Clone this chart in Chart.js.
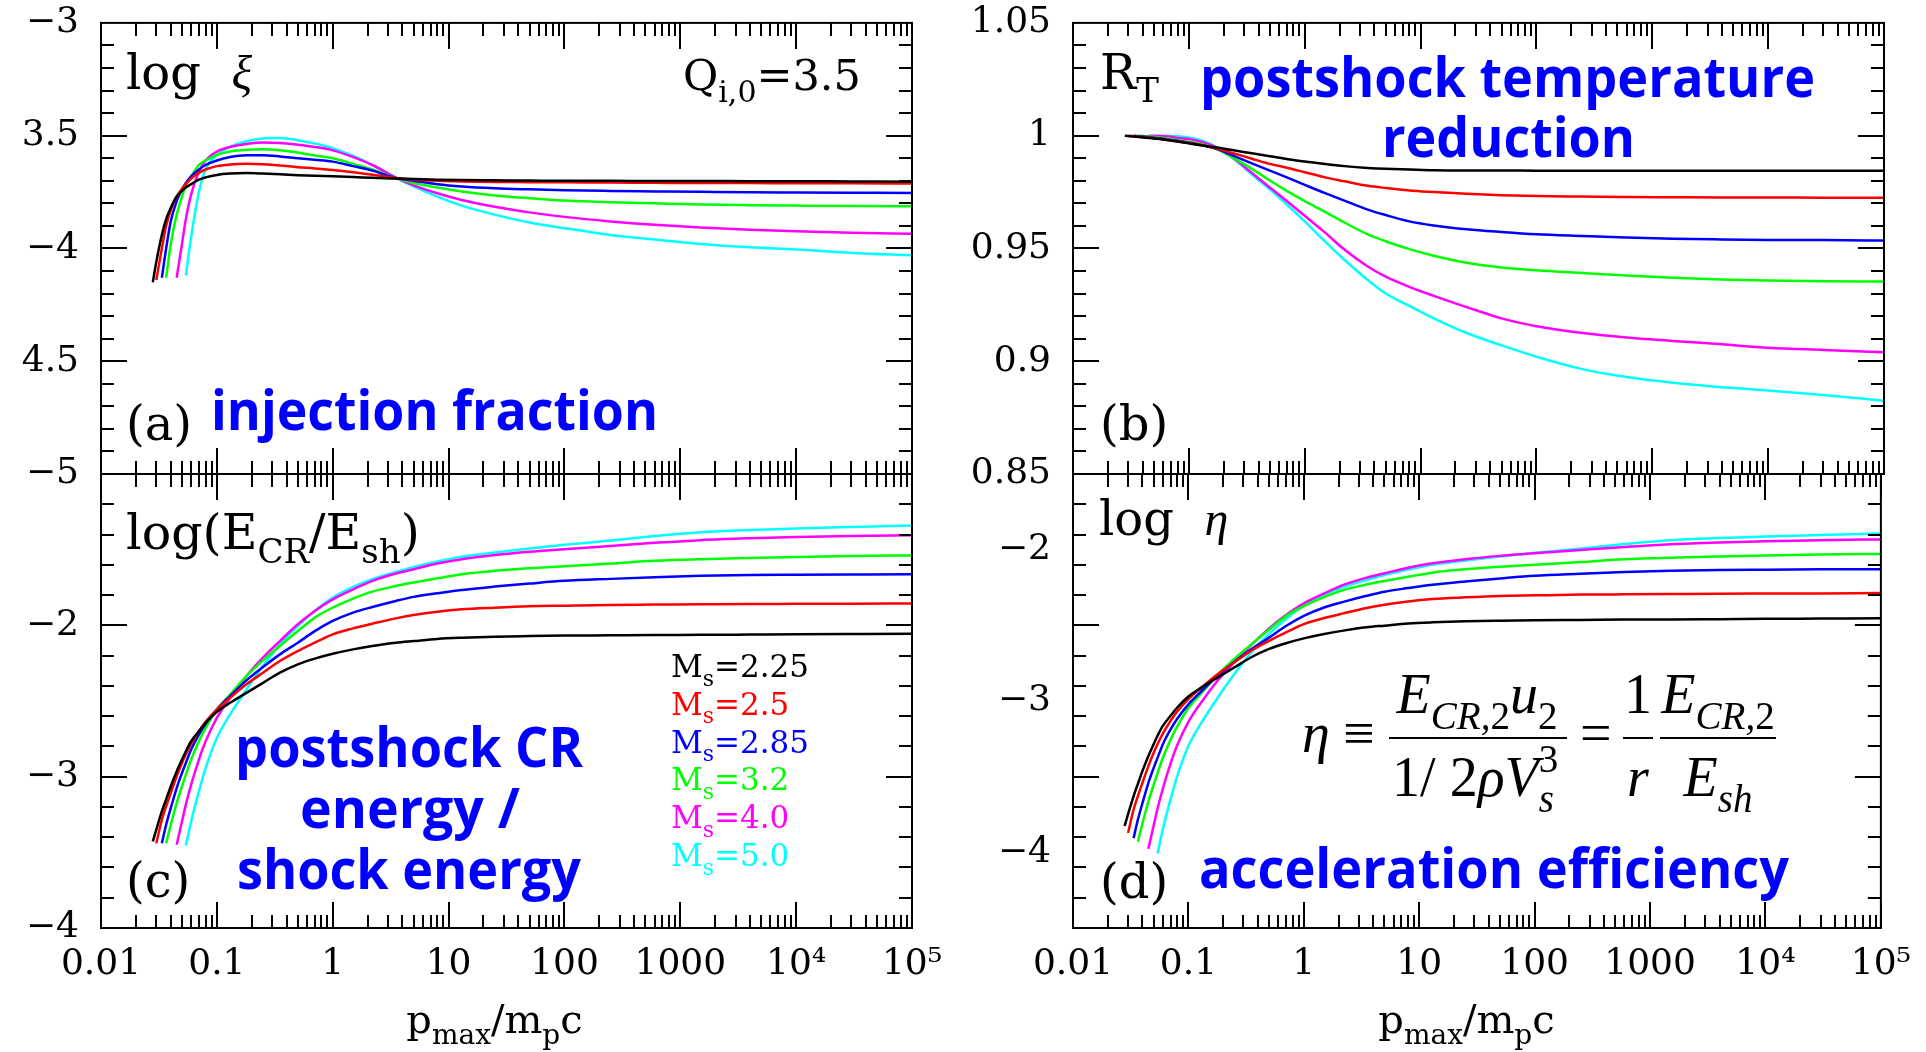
<!DOCTYPE html>
<html>
<head>
<meta charset="utf-8">
<title>CR shock acceleration panels</title>
<script src="https://cdn.jsdelivr.net/npm/chart.js@4.4.1/dist/chart.umd.min.js"></script>
<style>
  html, body { margin: 0; padding: 0; background: #fff; }
  #wrap { position: relative; width: 1926px; height: 1052px; }
  #wrap canvas { position: absolute; left: 0; top: 0; }
</style>
</head>
<body>
<div id="wrap">
  <canvas id="panelA" width="1926" height="1052"></canvas>
  <canvas id="panelB" width="1926" height="1052"></canvas>
  <canvas id="panelC" width="1926" height="1052"></canvas>
  <canvas id="panelD" width="1926" height="1052"></canvas>
</div>
<script>
// p_max / m_p c grid shared by every curve
const pmax = [0.028, 0.03, 0.0335, 0.0365, 0.04, 0.045, 0.05, 0.054, 0.06, 0.07, 0.08, 0.1, 0.13, 0.18, 0.25, 0.35, 0.5, 0.7, 1, 1.5, 2.2, 3.5, 5, 8, 13, 25, 50, 100, 250, 600, 1500, 4000, 1e4, 3e4, 1e5];

const machLabels = ['2.25', '2.5', '2.85', '3.2', '4.0', '5.0'];
const machColors = ['#000000', '#ff0000', '#0000ff', '#00ff00', '#ff00ff', '#00ffff'];

// (a) log xi, injection fraction
const xi225 = [-4.15, -4.06, -3.94, -3.87, -3.82, -3.77, -3.745, -3.73, -3.715, -3.695, -3.685, -3.674, -3.668, -3.666, -3.668, -3.671, -3.675, -3.678, -3.68, -3.683, -3.687, -3.69, -3.692, -3.695, -3.697, -3.698, -3.699, -3.7, -3.7, -3.701, -3.701, -3.702, -3.702, -3.703, -3.704];
const xi250 = [null, -4.14, -4.0, -3.9, -3.83, -3.77, -3.735, -3.715, -3.69, -3.665, -3.65, -3.635, -3.628, -3.625, -3.627, -3.632, -3.64, -3.645, -3.652, -3.662, -3.673, -3.688, -3.695, -3.7, -3.703, -3.705, -3.706, -3.707, -3.708, -3.709, -3.71, -3.71, -3.711, -3.711, -3.712];
const xi285 = [null, null, -4.13, -4.0, -3.88, -3.79, -3.74, -3.71, -3.68, -3.65, -3.63, -3.61, -3.595, -3.587, -3.587, -3.592, -3.6, -3.607, -3.615, -3.635, -3.655, -3.688, -3.7, -3.715, -3.725, -3.733, -3.738, -3.742, -3.745, -3.747, -3.749, -3.751, -3.752, -3.753, -3.754];
const xi320 = [null, null, null, -4.13, -3.98, -3.85, -3.77, -3.72, -3.68, -3.63, -3.61, -3.585, -3.57, -3.562, -3.56, -3.565, -3.575, -3.588, -3.6, -3.625, -3.65, -3.688, -3.71, -3.73, -3.748, -3.765, -3.777, -3.787, -3.795, -3.8, -3.805, -3.808, -3.81, -3.812, -3.813];
const xi400 = [null, null, null, null, null, -4.13, -3.98, -3.87, -3.76, -3.66, -3.61, -3.57, -3.55, -3.537, -3.53, -3.532, -3.54, -3.55, -3.565, -3.595, -3.63, -3.686, -3.72, -3.755, -3.785, -3.815, -3.84, -3.86, -3.88, -3.895, -3.907, -3.917, -3.924, -3.93, -3.935];
const xi500 = [null, null, null, null, null, null, null, -4.12, -3.95, -3.75, -3.65, -3.585, -3.55, -3.525, -3.512, -3.51, -3.52, -3.535, -3.555, -3.59, -3.63, -3.686, -3.725, -3.77, -3.81, -3.85, -3.885, -3.91, -3.94, -3.96, -3.98, -3.995, -4.005, -4.02, -4.03];

// (b) R_T, postshock temperature reduction
const rt225 = [1.0, 0.9998, 0.9996, 0.9994, 0.9992, 0.999, 0.9988, 0.9986, 0.9983, 0.9978, 0.9974, 0.9966, 0.9956, 0.9946, 0.9934, 0.9922, 0.9909, 0.9897, 0.9885, 0.9874, 0.9865, 0.9857, 0.9853, 0.985, 0.9847, 0.9846, 0.9846, 0.9845, 0.9845, 0.9845, 0.9844, 0.9844, 0.9844, 0.9844, 0.9844];
const rt250 = [null, 1.0, 0.9998, 0.9996, 0.9994, 0.9992, 0.9989, 0.9987, 0.9984, 0.9979, 0.9975, 0.9968, 0.9958, 0.9941, 0.992, 0.9898, 0.9875, 0.9858, 0.9838, 0.9815, 0.9798, 0.9778, 0.9768, 0.9757, 0.975, 0.9742, 0.9736, 0.9732, 0.973, 0.9728, 0.9727, 0.9726, 0.9726, 0.9725, 0.9725];
const rt285 = [null, null, 1.0, 0.9998, 0.9996, 0.9994, 0.9991, 0.9989, 0.9986, 0.9981, 0.9977, 0.9969, 0.9958, 0.9938, 0.9908, 0.9877, 0.9845, 0.9815, 0.9782, 0.9745, 0.9712, 0.9672, 0.9648, 0.962, 0.9602, 0.9585, 0.9573, 0.9563, 0.9555, 0.9548, 0.9543, 0.954, 0.9538, 0.9537, 0.9535];
const rt320 = [null, null, null, 1.0, 0.9999, 0.9997, 0.9995, 0.9993, 0.999, 0.9985, 0.998, 0.9973, 0.9962, 0.9937, 0.9897, 0.9853, 0.9801, 0.9755, 0.971, 0.9662, 0.9615, 0.9562, 0.9532, 0.9497, 0.9468, 0.9437, 0.9416, 0.9403, 0.9391, 0.938, 0.937, 0.9362, 0.9358, 0.9355, 0.9353];
const rt400 = [null, null, null, null, null, 1.0, 1.0, 0.9999, 0.9998, 0.9995, 0.999, 0.9985, 0.9972, 0.9943, 0.9895, 0.9835, 0.977, 0.971, 0.9645, 0.957, 0.9495, 0.942, 0.9375, 0.933, 0.929, 0.924, 0.919, 0.9155, 0.9125, 0.9105, 0.909, 0.9075, 0.906, 0.905, 0.904];
const rt500 = [null, null, null, null, null, null, null, 1.0, 1.0, 0.9999, 0.9997, 0.9992, 0.9978, 0.9945, 0.9893, 0.9828, 0.9762, 0.9695, 0.962, 0.953, 0.945, 0.936, 0.93, 0.9245, 0.919, 0.9125, 0.907, 0.902, 0.8965, 0.893, 0.8905, 0.8885, 0.887, 0.885, 0.8825];

// (c) log(E_CR/E_sh)
const ecr225 = [-3.428, -3.35, -3.23, -3.15, -3.064, -2.965, -2.887, -2.832, -2.766, -2.7, -2.645, -2.572, -2.512, -2.446, -2.38, -2.313, -2.258, -2.22, -2.188, -2.159, -2.137, -2.115, -2.104, -2.09, -2.082, -2.075, -2.071, -2.068, -2.066, -2.064, -2.063, -2.061, -2.059, -2.057, -2.055];
const ecr250 = [null, -3.44, -3.285, -3.196, -3.108, -2.998, -2.91, -2.854, -2.784, -2.7, -2.638, -2.556, -2.479, -2.39, -2.313, -2.236, -2.17, -2.115, -2.06, -2.02, -1.989, -1.954, -1.932, -1.91, -1.894, -1.883, -1.874, -1.87, -1.865, -1.863, -1.861, -1.859, -1.858, -1.857, -1.855];
const ecr285 = [null, null, -3.44, -3.318, -3.208, -3.075, -2.976, -2.91, -2.821, -2.722, -2.651, -2.556, -2.468, -2.364, -2.276, -2.192, -2.115, -2.038, -1.971, -1.916, -1.879, -1.839, -1.812, -1.788, -1.766, -1.744, -1.724, -1.706, -1.693, -1.682, -1.673, -1.668, -1.666, -1.664, -1.662];
const ecr320 = [null, null, null, -3.44, -3.318, -3.174, -3.064, -2.987, -2.887, -2.766, -2.678, -2.556, -2.457, -2.336, -2.232, -2.137, -2.038, -1.949, -1.883, -1.823, -1.777, -1.74, -1.717, -1.689, -1.662, -1.64, -1.623, -1.609, -1.592, -1.574, -1.563, -1.555, -1.548, -1.542, -1.538];
const ecr400 = [null, null, null, null, null, -3.45, -3.296, -3.185, -3.053, -2.887, -2.766, -2.611, -2.479, -2.336, -2.214, -2.104, -1.993, -1.905, -1.828, -1.762, -1.706, -1.658, -1.629, -1.592, -1.563, -1.536, -1.514, -1.497, -1.475, -1.455, -1.437, -1.425, -1.417, -1.41, -1.405];
const ecr500 = [null, null, null, null, null, null, null, -3.455, -3.296, -3.097, -2.943, -2.744, -2.589, -2.424, -2.269, -2.126, -2.004, -1.905, -1.817, -1.746, -1.695, -1.647, -1.614, -1.578, -1.547, -1.519, -1.492, -1.468, -1.44, -1.41, -1.385, -1.37, -1.36, -1.35, -1.34];

// (d) log eta, acceleration efficiency
const eta225 = [-3.826, -3.748, -3.628, -3.548, -3.462, -3.363, -3.285, -3.23, -3.164, -3.098, -3.043, -2.97, -2.91, -2.844, -2.778, -2.711, -2.656, -2.618, -2.586, -2.557, -2.535, -2.513, -2.502, -2.488, -2.48, -2.473, -2.469, -2.466, -2.464, -2.462, -2.461, -2.459, -2.457, -2.455, -2.453];
const eta250 = [null, -3.872, -3.717, -3.628, -3.54, -3.43, -3.342, -3.286, -3.216, -3.132, -3.07, -2.988, -2.911, -2.822, -2.745, -2.668, -2.602, -2.547, -2.492, -2.452, -2.421, -2.386, -2.364, -2.342, -2.326, -2.315, -2.306, -2.302, -2.297, -2.295, -2.293, -2.291, -2.29, -2.289, -2.287];
const eta285 = [null, null, -3.906, -3.784, -3.674, -3.541, -3.442, -3.376, -3.287, -3.188, -3.117, -3.022, -2.934, -2.83, -2.742, -2.658, -2.581, -2.504, -2.437, -2.382, -2.345, -2.305, -2.278, -2.254, -2.232, -2.21, -2.19, -2.172, -2.159, -2.148, -2.139, -2.134, -2.132, -2.13, -2.129];
const eta320 = [null, null, null, -3.93, -3.808, -3.664, -3.554, -3.477, -3.377, -3.256, -3.168, -3.046, -2.947, -2.826, -2.722, -2.627, -2.528, -2.439, -2.373, -2.313, -2.267, -2.23, -2.207, -2.179, -2.152, -2.13, -2.113, -2.099, -2.082, -2.064, -2.053, -2.045, -2.038, -2.032, -2.028];
const eta400 = [null, null, null, null, null, -3.977, -3.823, -3.712, -3.58, -3.414, -3.293, -3.138, -3.006, -2.863, -2.741, -2.631, -2.52, -2.432, -2.355, -2.289, -2.233, -2.185, -2.156, -2.119, -2.09, -2.063, -2.041, -2.024, -2.002, -1.982, -1.964, -1.952, -1.944, -1.937, -1.932];
const eta500 = [null, null, null, null, null, null, null, -4.008, -3.849, -3.65, -3.496, -3.297, -3.142, -2.977, -2.822, -2.679, -2.557, -2.458, -2.37, -2.299, -2.248, -2.2, -2.167, -2.131, -2.1, -2.072, -2.045, -2.021, -1.993, -1.963, -1.938, -1.923, -1.913, -1.903, -1.893];

// axis ticks
const xTickValues = [0.01, 0.1, 1, 10, 100, 1000, 1e4, 1e5];
const xTickLabels = ['0.01', '0.1', '1', '10', '100', '1000', '10\u2074', '10\u2075'];
const yTicksA = [-5, -4.5, -4, -3.5, -3];
const yLabelsA = ['\u22125', '4.5', '\u22124', '3.5', '\u22123'];
const yTicksB = [0.85, 0.9, 0.95, 1, 1.05];
const yLabelsB = ['0.85', '0.9', '0.95', '1', '1.05'];
const yTicksC = [-4, -3, -2];
const yLabelsC = ['\u22124', '\u22123', '\u22122'];
const yTicksD = [-4, -3, -2];
const yLabelsD = ['\u22124', '\u22123', '\u22122'];

const W = 1926, H = 1052;
const AXIS_W = 100, AXIS_H = 80;
const SERIF = '"DejaVu Serif", serif';
const MATH = '"Liberation Serif", "Times New Roman", serif';
const NOTE_BLUE = '#0000ff';

// ---- text helpers ----
// part = [text, kind, italic, family]; kind: 'n' normal, 'b' subscript, 'p' superscript, 'P' superscript without advance
function partFont(kind, size, family, it) {
  const s = kind === 'n' ? size : Math.round(size * 0.7);
  return (it ? 'italic ' : '') + s + 'px ' + family;
}
function runWidth(ctx, parts, size, family) {
  let w = 0;
  parts.forEach(([t, kind = 'n', it, fam]) => {
    if (kind === 'P') return;
    ctx.font = partFont(kind, size, fam || family, it);
    w += ctx.measureText(t).width;
  });
  return w;
}
function drawRun(ctx, parts, x, y, size, family, color, align) {
  ctx.save();
  ctx.fillStyle = color;
  ctx.textAlign = 'left';
  ctx.textBaseline = 'alphabetic';
  if (align === 'center') x -= runWidth(ctx, parts, size, family) / 2;
  parts.forEach(([t, kind = 'n', it, fam]) => {
    ctx.font = partFont(kind, size, fam || family, it);
    let dy = 0;
    if (kind === 'b') dy = size * 0.28;
    if (kind === 'p' || kind === 'P') dy = -size * 0.42;
    ctx.fillText(t, x, y + dy);
    if (kind !== 'P') x += ctx.measureText(t).width;
  });
  ctx.restore();
}
// bold blue notes, squeezed to the width they take on the figure
function drawNote(ctx, text, left, base, width) {
  ctx.save();
  ctx.font = 'bold 56px "Open Sans", sans-serif';
  const sx = width / ctx.measureText(text).width;
  ctx.translate(left, base);
  ctx.scale(sx, 1);
  ctx.fillStyle = NOTE_BLUE;
  ctx.textBaseline = 'alphabetic';
  ctx.fillText(text, 0, 0);
  ctx.restore();
}
function drawBar(ctx, x1, x2, y) {
  ctx.fillStyle = '#000';
  ctx.fillRect(x1, y - 1, x2 - x1, 2);
}

function stepValues(min, max, step) {
  const out = [];
  for (let v = min + step; v < max - step / 2; v += step) out.push(+v.toFixed(4));
  return out;
}

const xMinor = [];
for (let e = -2; e < 5; e++) for (let k = 2; k <= 9; k++) xMinor.push(k * Math.pow(10, e));

function buildPanel(id, box, series, yMin, yMax, yTicks, yLabels, majorStep, minorStep, showX, notes) {
  const yMajor = stepValues(yMin, yMax, majorStep);
  const yMinorVals = stepValues(yMin, yMax, minorStep).filter(v => !yMajor.some(m => Math.abs(m - v) < 1e-6));

  const frame = {
    id: 'frame',
    afterDatasetsDraw(chart) {
      const {ctx, chartArea: a, scales: {x, y}} = chart;
      ctx.save();
      ctx.strokeStyle = '#000';
      ctx.lineWidth = 2;
      ctx.strokeRect(a.left, a.top, a.right - a.left, a.bottom - a.top);
      const seg = (x1, y1, x2, y2) => { ctx.beginPath(); ctx.moveTo(x1, y1); ctx.lineTo(x2, y2); ctx.stroke(); };
      xTickValues.forEach(v => {
        const px = Math.round(x.getPixelForValue(v));
        seg(px, a.top, px, a.top + 26); seg(px, a.bottom, px, a.bottom - 26);
      });
      xMinor.forEach(v => {
        const px = Math.round(x.getPixelForValue(v));
        seg(px, a.top, px, a.top + 13); seg(px, a.bottom, px, a.bottom - 13);
      });
      yMajor.forEach(v => {
        const py = Math.round(y.getPixelForValue(v));
        seg(a.left, py, a.left + 26, py); seg(a.right, py, a.right - 26, py);
      });
      yMinorVals.forEach(v => {
        const py = Math.round(y.getPixelForValue(v));
        seg(a.left, py, a.left + 13, py); seg(a.right, py, a.right - 13, py);
      });
      ctx.restore();
      notes(ctx, box);
    }
  };

  return new Chart(document.getElementById(id), {
    type: 'line',
    data: {
      datasets: series.map((arr, k) => ({
        label: 'Ms=' + machLabels[k],
        data: pmax.map((p, i) => ({x: p, y: arr[i]})).filter(d => d.y !== null),
        borderColor: machColors[k],
        borderWidth: 2.5,
        pointRadius: 0,
        fill: false,
        cubicInterpolationMode: 'monotone'
      }))
    },
    options: {
      responsive: false,
      animation: false,
      devicePixelRatio: 1,
      events: [],
      layout: {
        padding: {left: box.left - AXIS_W, top: box.top, right: W - box.right, bottom: H - box.bottom - AXIS_H}
      },
      scales: {
        x: {
          type: 'logarithmic',
          min: 0.01,
          max: 1e5,
          afterFit: s => { s.height = AXIS_H; },
          afterBuildTicks: s => { s.ticks = xTickValues.map(v => ({value: v})); },
          grid: {display: false, drawTicks: false},
          border: {display: false},
          ticks: {
            display: showX,
            autoSkip: false,
            maxRotation: 0,
            padding: 15,
            color: '#000',
            font: {family: SERIF, size: 36},
            callback: (v, i) => xTickLabels[i]
          }
        },
        y: {
          type: 'linear',
          min: yMin,
          max: yMax,
          afterFit: s => { s.width = AXIS_W; },
          afterBuildTicks: s => { s.ticks = yTicks.map(v => ({value: v})); },
          grid: {display: false, drawTicks: false},
          border: {display: false},
          ticks: {
            padding: 22,
            color: '#000',
            // tiny line height keeps the end labels from pushing the plot area down
            font: {family: SERIF, size: 36, lineHeight: 0.05},
            callback: (v, i) => yLabels[i]
          }
        }
      },
      plugins: {legend: {display: false}, tooltip: {enabled: false}}
    },
    plugins: [frame]
  });
}

function xTitle(ctx, box) {
  const cx = (box.left + box.right) / 2 - 12;
  drawRun(ctx, [['p'], ['max', 'b'], ['/m'], ['p', 'b'], ['c']], cx, 1033, 40, SERIF, '#000', 'center');
}

buildPanel('panelA', {left: 101, top: 21, right: 912, bottom: 474},
  [xi225, xi250, xi285, xi320, xi400, xi500], -5, -3, yTicksA, yLabelsA, 0.5, 0.1, false,
  (ctx) => {
    drawRun(ctx, [['log  '], ['\u03be', 'n', 1, MATH]], 126, 89, 48, SERIF, '#000');
    drawRun(ctx, [['Q'], ['i,0', 'b'], ['=3.5']], 683, 90, 43, SERIF, '#000');
    drawRun(ctx, [['(a)']], 126, 440, 48, SERIF, '#000');
    drawNote(ctx, 'injection fraction', 211, 430, 447);
  });

buildPanel('panelB', {left: 1073, top: 21, right: 1884, bottom: 474},
  [rt225, rt250, rt285, rt320, rt400, rt500], 0.85, 1.05, yTicksB, yLabelsB, 0.05, 0.01, false,
  (ctx) => {
    drawRun(ctx, [['R'], ['T', 'b']], 1100, 89, 48, SERIF, '#000');
    drawRun(ctx, [['(b)']], 1100, 440, 48, SERIF, '#000');
    drawNote(ctx, 'postshock temperature', 1200, 97, 615);
    drawNote(ctx, 'reduction', 1382, 157, 253);
  });

buildPanel('panelC', {left: 101, top: 474, right: 912, bottom: 928},
  [ecr225, ecr250, ecr285, ecr320, ecr400, ecr500], -4, -1, yTicksC, yLabelsC, 1, 0.2, true,
  (ctx, box) => {
    drawRun(ctx, [['log(E'], ['CR', 'b'], ['/E'], ['sh', 'b'], [')']], 126, 549, 49, SERIF, '#000');
    drawRun(ctx, [['(c)']], 126, 897, 48, SERIF, '#000');
    drawNote(ctx, 'postshock CR', 235, 767, 348);
    drawNote(ctx, 'energy /', 300, 828, 220);
    drawNote(ctx, 'shock energy', 237, 889, 344);
    machLabels.forEach((m, k) => {
      drawRun(ctx, [['M'], ['s', 'b'], ['=' + m]], 671, 677 + k * 37.8, 31, SERIF, machColors[k]);
    });
    xTitle(ctx, box);
  });

buildPanel('panelD', {left: 1073, top: 474, right: 1884, bottom: 928},
  [eta225, eta250, eta285, eta320, eta400, eta500], -4.5, -1.5, yTicksD, yLabelsD, 1, 0.2, true,
  (ctx, box) => {
    drawRun(ctx, [['log  '], ['\u03b7', 'n', 1, MATH]], 1099, 535, 48, SERIF, '#000');
    drawRun(ctx, [['(d)']], 1100, 898, 48, SERIF, '#000');
    drawNote(ctx, 'acceleration efficiency', 1199, 888, 590);
    // eta definition
    const fs = 56;
    drawRun(ctx, [['\u03b7', 'n', 1]], 1302, 752, fs, MATH, '#000');
    drawRun(ctx, [['\u2261']], 1343, 752, fs, MATH, '#000');
    drawBar(ctx, 1389, 1567, 738);
    drawRun(ctx, [['E', 'n', 1], ['CR,', 'b', 1], ['2', 'b'], ['u', 'n', 1], ['2', 'b']], 1477, 713, fs, MATH, '#000', 'center');
    drawRun(ctx, [['1/ 2'], ['\u03c1', 'n', 1], ['V', 'n', 1], ['3', 'P'], ['s', 'b', 1]], 1473, 796, fs, MATH, '#000', 'center');
    drawRun(ctx, [['=']], 1580, 752, fs, MATH, '#000');
    drawBar(ctx, 1623, 1653, 738);
    drawRun(ctx, [['1']], 1638, 713, fs, MATH, '#000', 'center');
    drawRun(ctx, [['r', 'n', 1]], 1638, 796, fs, MATH, '#000', 'center');
    drawBar(ctx, 1660, 1776, 738);
    drawRun(ctx, [['E', 'n', 1], ['CR,', 'b', 1], ['2', 'b']], 1718, 713, fs, MATH, '#000', 'center');
    drawRun(ctx, [['E', 'n', 1], ['sh', 'b', 1]], 1718, 796, fs, MATH, '#000', 'center');
    xTitle(ctx, box);
  });
</script>
</body>
</html>
